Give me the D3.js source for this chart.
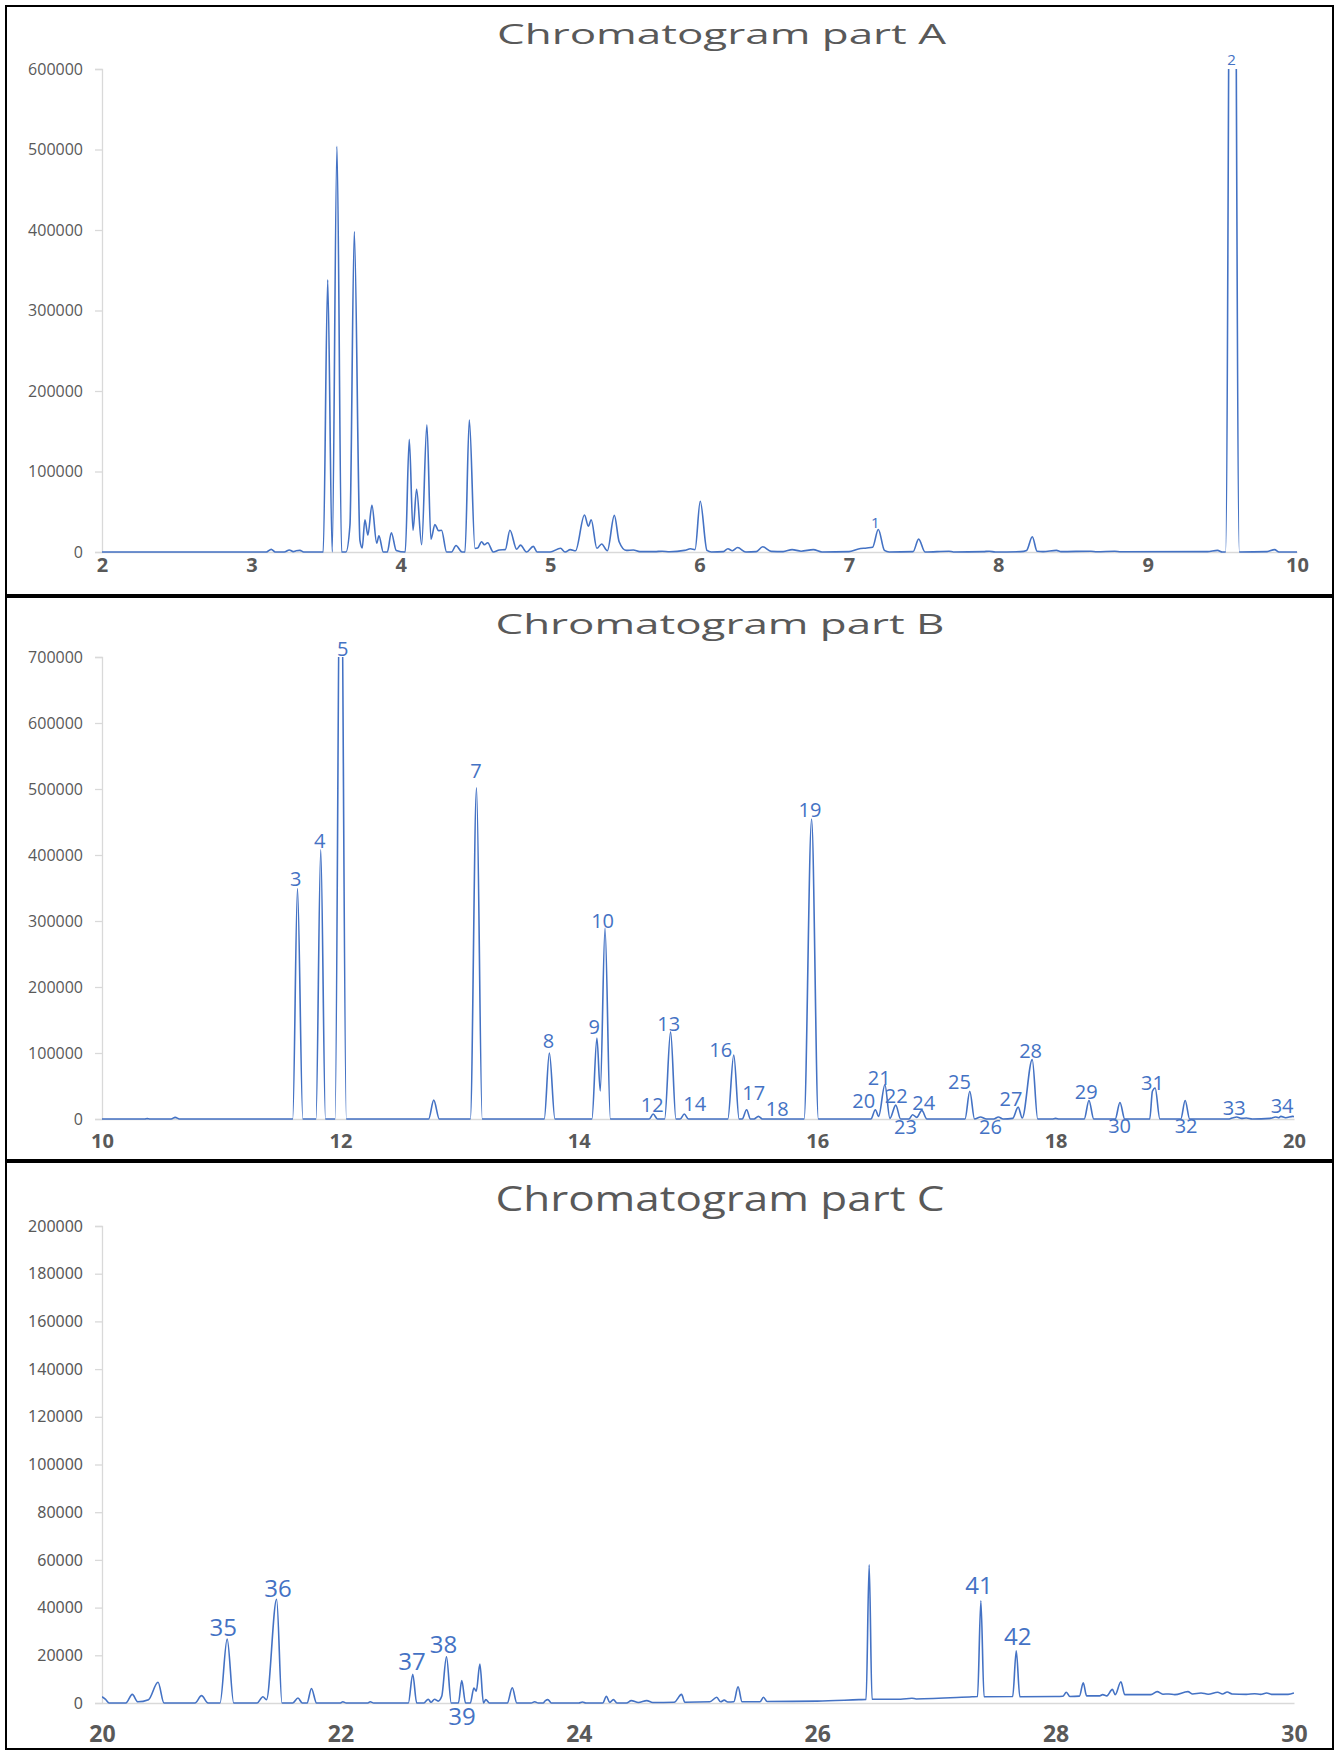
<!DOCTYPE html>
<meta charset="utf-8">
<script src="https://d3js.org/d3.v7.min.js"></script>
<style>
    body {margin: 0; background: #fff;}
    svg {display: block;}
</style>
<body>
<svg width="1336" height="1751"></svg>
<script>
    // ---- data: [retention time (min), intensity] ----
    var traceA = [
        [2.00,0],[3.10,0],[3.133,3300],[3.16,0],[3.22,0],[3.254,2500],[3.28,500],[3.30,1500],[3.325,2000],[3.35,0],
        [3.481,0],[3.511,338000],[3.541,0],[3.573,504000],[3.604,0],[3.633,0],[3.66,33500],[3.689,398000],[3.727,14000],
        [3.742,5000],[3.76,40000],[3.78,21000],[3.807,58000],[3.839,11000],[3.854,20000],[3.883,0],[3.91,0],[3.937,24000],
        [3.97,2000],[4.03,0],[4.057,140000],[4.082,27000],[4.106,78000],[4.14,9000],[4.175,158000],[4.202,16000],
        [4.229,34000],[4.253,26500],[4.273,27000],[4.307,0],[4.34,0],[4.37,8000],[4.41,0],[4.43,0],[4.459,164000],
        [4.497,4500],[4.515,5000],[4.541,12800],[4.56,9000],[4.582,11500],[4.619,0],[4.66,2500],[4.70,3000],
        [4.731,27000],[4.776,3500],[4.802,8500],[4.842,0],[4.887,7000],[4.913,0],[5.00,0],[5.07,4600],[5.10,0],
        [5.135,3000],[5.17,1500],[5.23,46000],[5.256,32000],[5.275,40000],[5.313,4600],[5.345,10000],[5.383,1500],
        [5.43,45500],[5.462,12800],[5.51,2000],[5.557,2500],[5.60,500],[5.70,500],[5.75,1000],[5.80,300],[5.90,2000],
        [5.94,4000],[5.97,3000],[6.005,63000],[6.05,2000],[6.08,0],[6.16,500],[6.19,4000],[6.22,1500],[6.255,5500],
        [6.31,0],[6.38,500],[6.423,6500],[6.48,800],[6.56,500],[6.62,3000],[6.68,1000],[6.762,3000],[6.82,0],[7.00,500],
        [7.064,3800],[7.12,5000],[7.159,6000],[7.197,28000],[7.238,2000],[7.27,0],[7.43,500],[7.467,16000],[7.51,0],
        [7.67,1000],[7.70,0],[7.90,500],[7.94,1000],[7.98,0],[8.15,500],[8.19,2000],[8.228,19000],[8.26,1000],[8.30,500],
        [8.39,2000],[8.42,500],[8.62,1000],[8.66,300],[8.78,1000],[8.82,300],[9.40,500],[9.468,2000],[9.50,0],
        [9.522,0],[9.568,1450000],[9.614,0],[9.80,500],[9.85,3000],[9.88,0],[10.00,0]
    ];
    var traceB = [
        [10.00,0],[10.36,0],[10.38,500],[10.40,0],[10.58,0],[10.614,2500],[10.65,0],[11.60,0],[11.64,349000],[11.685,0],
        [11.795,0],[11.835,408000],[11.875,0],[11.955,0],[12.002,1000000],[12.05,0],[12.74,0],[12.783,28600],[12.83,0],
        [13.09,0],[13.142,502000],[13.19,0],[13.71,0],[13.753,100000],[13.80,0],[14.11,0],[14.152,122700],[14.18,42500],
        [14.22,289000],[14.265,0],[14.59,0],[14.624,7500],[14.66,0],[14.72,0],[14.77,132000],[14.815,0],[14.85,0],
        [14.885,7500],[14.92,0],[15.25,0],[15.30,97000],[15.345,0],[15.37,0],[15.408,14000],[15.44,0],[15.47,0],
        [15.507,4000],[15.54,0],[15.89,0],[15.953,454500],[16.01,0],[16.45,0],[16.488,14000],[16.515,4000],
        [16.568,52000],[16.61,1000],[16.659,21000],[16.70,0],[16.77,0],[16.80,6500],[16.835,2500],[16.878,13000],
        [16.92,0],[17.24,0],[17.28,42000],[17.32,0],[17.37,3000],[17.42,0],[17.48,0],[17.52,3000],[17.56,0],
        [17.64,1000],[17.686,18000],[17.72,1500],[17.804,90000],[17.85,0],[17.97,0],[18.00,1000],[18.03,0],[18.24,0],
        [18.28,28000],[18.32,0],[18.50,0],[18.54,25000],[18.58,0],[18.79,0],[18.812,42000],[18.835,47000],[18.875,0],
        [19.05,0],[19.087,28000],[19.125,0],[19.45,0],[19.48,1500],[19.52,3000],[19.56,1000],[19.60,1500],[19.65,0],
        [19.80,1000],[19.845,3000],[19.87,2000],[19.89,4000],[19.93,2000],[19.99,4000],[20.00,3500]
    ];
    var traceC = [
        [20.00,2650],[20.03,1500],[20.06,0],[20.20,0],[20.254,3600],[20.30,500],[20.39,1400],[20.47,8700],[20.52,0],
        [20.78,0],[20.835,3100],[20.89,0],[20.99,0],[21.05,26800],[21.105,0],[21.30,0],[21.35,2650],[21.38,1400],
        [21.465,43500],[21.51,0],[21.60,0],[21.644,2100],[21.68,0],[21.72,0],[21.757,6100],[21.80,0],[22.00,0],
        [22.02,500],[22.05,0],[22.23,0],[22.25,500],[22.28,0],[22.57,0],[22.607,12000],[22.64,0],[22.70,0],
        [22.737,1600],[22.76,300],[22.79,1600],[22.82,800],[22.85,2800],[22.89,19400],[22.93,0],[22.99,0],
        [23.018,9400],[23.05,0],[23.09,0],[23.12,6300],[23.14,5000],[23.17,16300],[23.20,0],[23.22,1400],[23.25,0],
        [23.40,0],[23.442,6400],[23.48,0],[23.60,0],[23.63,500],[23.66,0],[23.70,0],[23.72,1000],[23.74,1400],
        [23.77,0],[24.00,0],[24.03,400],[24.06,0],[24.20,0],[24.232,2800],[24.26,200],[24.29,1400],[24.32,0],
        [24.40,0],[24.44,1000],[24.50,200],[24.57,1000],[24.62,200],[24.80,300],[24.862,3600],[24.89,300],
        [25.10,500],[25.157,2400],[25.19,500],[25.22,1200],[25.25,400],[25.30,500],[25.336,6800],[25.37,500],
        [25.52,500],[25.549,2400],[25.58,600],[26.00,800],[26.35,1400],[26.41,1500],[26.436,57900],[26.46,1600],
        [26.70,1600],[26.795,2000],[26.83,1700],[27.30,2600],[27.345,2700],[27.373,42900],[27.40,2600],[27.64,2700],
        [27.67,21900],[27.70,2600],[28.00,2700],[28.06,2800],[28.09,4500],[28.12,2700],[28.20,2900],[28.232,8500],
        [28.26,3000],[28.37,3000],[28.395,3500],[28.43,3000],[28.476,5700],[28.50,3500],[28.548,8900],[28.58,3500],
        [28.80,3500],[28.852,4750],[28.90,3700],[28.95,3800],[29.00,3500],[29.11,4750],[29.15,3800],[29.22,4200],
        [29.28,3700],[29.36,4500],[29.40,3800],[29.44,4600],[29.48,3800],[29.60,3600],[29.67,3900],[29.72,3600],
        [29.77,4200],[29.82,3600],[29.95,3600],[30.00,4200]
    ];

    // peak numbers: [text, time, intensity at the label baseline]
    var labelsA = [["1",7.176,29800],["2",9.562,605000]];
    var labelsB = [
        ["3",11.625,353600],["4",11.827,411000],["5",12.019,702000],["7",13.138,516000],["8",13.745,108000],
        ["9",14.129,128500],["10",14.2,289300],["12",14.616,10300],["13",14.754,133000],["14",14.972,11800],
        ["16",15.19,94100],["17",15.467,29400],["18",15.665,5150],["19",15.94,457400],["20",16.39,16800],
        ["21",16.52,51900],["22",16.663,24700],["23",16.74,-23000],["24",16.893,14200],["25",17.193,45400],
        ["26",17.454,-23000],["27",17.625,19100],["28",17.79,92000],["29",18.257,30300],["30",18.537,-21800],
        ["31",18.813,43300],["32",19.095,-20600],["33",19.498,6700],["34",19.9,9200]
    ];
    var labelsC = [
        ["35",21.018,28100],["36",21.477,44300],["37",22.6,13800],["38",22.865,21100],["39",23.02,-9400],
        ["41",27.357,45700],["42",27.683,24300]
    ];

    var xTicksA = [2,3,4,5,6,7,8,9,10];
    var xTicksB = [10,12,14,16,18,20];
    var xTicksC = [20,22,24,26,28,30];
    var yTicksA = [0,100000,200000,300000,400000,500000,600000];
    var yTicksB = [0,100000,200000,300000,400000,500000,600000,700000];
    var yTicksC = [0,20000,40000,60000,80000,100000,120000,140000,160000,180000,200000];

    // ---- layout ----
    var blue = "#4472C4", grey = "#595959", axisGrey = "#d9d9d9";
    var panels = [
        {id:"A", title:"Chromatogram part A", trace:traceA, labels:labelsA, xTicks:xTicksA, yTicks:yTicksA,
            box:[6,6,1327,589], left:102, right:1297, top:69, bottom:552, titleY:44, titleSize:28,
            peakSize:15, tickFont:"'Open Sans'", tickSize:16, xFont:"'Open Sans'", xSize:20, xBase:572},
        {id:"B", title:"Chromatogram part B", trace:traceB, labels:labelsB, xTicks:xTicksB, yTicks:yTicksB,
            box:[6,597,1327,563], left:102, right:1294, top:657, bottom:1119, titleY:634, titleSize:28,
            peakSize:20, tickFont:"'Open Sans'", tickSize:16, xFont:"'Open Sans'", xSize:20, xBase:1148},
        {id:"C", title:"Chromatogram part C", trace:traceC, labels:labelsC, xTicks:xTicksC, yTicks:yTicksC,
            box:[6,1162,1327,587], left:102, right:1294, top:1226, bottom:1703, titleY:1211, titleSize:34,
            peakSize:24, tickFont:"'Noto Sans'", tickSize:16, xFont:"'Noto Sans'", xSize:23, xBase:1742}
    ];

    var svg = d3.select("svg");
    var defs = svg.append("defs");

    panels.forEach(function(p){
        var g = svg.append("g").attr("class","panel-" + p.id);

        g.append("rect")
            .attr("x", p.box[0]).attr("y", p.box[1])
            .attr("width", p.box[2]).attr("height", p.box[3])
            .attr("fill", "#fff").attr("stroke", "#000").attr("stroke-width", 2);

        var x = d3.scaleLinear()
            .domain([p.xTicks[0], p.xTicks[p.xTicks.length-1]])
            .range([p.left, p.right]);
        var y = d3.scaleLinear()
            .domain([0, p.yTicks[p.yTicks.length-1]])
            .range([p.bottom, p.top]);

        // title
        g.append("text")
            .attr("x", (p.left + p.right)/2 + 22)
            .attr("y", p.titleY)
            .attr("text-anchor", "middle")
            .attr("textLength", 449)
            .attr("lengthAdjust", "spacingAndGlyphs")
            .style("font-family", "'Open Sans', 'DejaVu Sans', sans-serif")
            .style("font-weight", 400)
            .style("font-size", p.titleSize + "px")
            .style("fill", grey)
            .text(p.title);

        // y axis
        var yAxis = g.append("g")
            .attr("transform", "translate(" + p.left + ",0)")
            .call(d3.axisLeft(y).tickValues(p.yTicks).tickSize(7).tickPadding(12).tickFormat(d3.format("d")));
        yAxis.select(".domain").attr("stroke", axisGrey).attr("stroke-width", 1.3);
        yAxis.selectAll(".tick line").attr("stroke", axisGrey).attr("stroke-width", 1.3);
        yAxis.selectAll(".tick text")
            .style("font-family", p.tickFont + ", sans-serif")
            .style("font-size", p.tickSize + "px")
            .style("fill", grey);

        // x axis (baseline + labels)
        var xAxis = g.append("g")
            .attr("transform", "translate(0," + p.bottom + ")")
            .call(d3.axisBottom(x).tickValues(p.xTicks).tickSize(0).tickSizeOuter(0));
        xAxis.select(".domain").attr("stroke", axisGrey).attr("stroke-width", 1.5);
        xAxis.selectAll(".tick text")
            .attr("y", p.xBase - p.bottom)
            .attr("dy", 0)
            .style("font-family", p.xFont + ", sans-serif")
            .style("font-weight", 700)
            .style("font-size", p.xSize + "px")
            .style("fill", grey);

        // trace, clipped to the plot area like the original
        defs.append("clipPath").attr("id", "clip" + p.id)
            .append("rect")
            .attr("x", p.left).attr("y", p.top)
            .attr("width", p.right - p.left).attr("height", p.bottom - p.top + 10);

        var line = d3.line()
            .x(function(d){ return x(d[0]); })
            .y(function(d){ return y(d[1]); })
            .curve(d3.curveMonotoneX);

        g.append("path")
            .datum(p.trace)
            .attr("clip-path", "url(#clip" + p.id + ")")
            .attr("fill", "none")
            .attr("stroke", blue)
            .attr("stroke-width", 1.6)
            .attr("stroke-linejoin", "round")
            .attr("d", line);

        // peak numbers
        g.selectAll("text.peak")
            .data(p.labels)
            .enter().append("text")
            .attr("class", "peak")
            .attr("x", function(d){ return x(d[1]); })
            .attr("y", function(d){ return y(d[2]); })
            .attr("text-anchor", "middle")
            .style("font-family", "'Open Sans', sans-serif")
            .style("font-size", p.peakSize + "px")
            .style("fill", blue)
            .text(function(d){ return d[0]; });
    });
</script>
</body>
